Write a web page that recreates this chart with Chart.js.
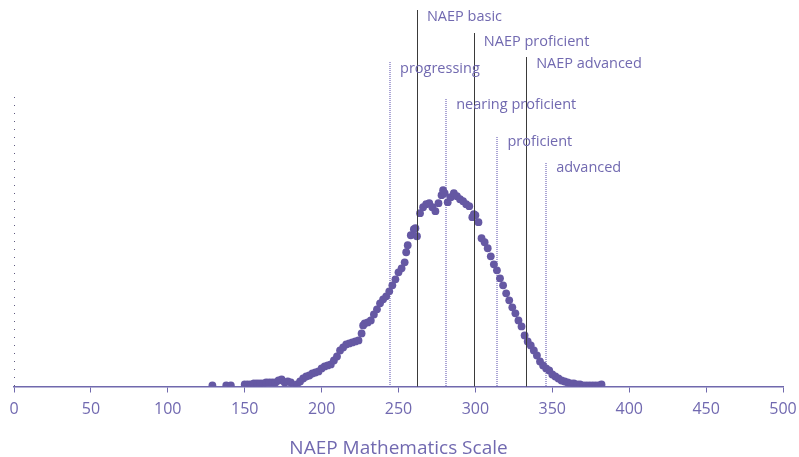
<!DOCTYPE html>
<html>
<head>
<meta charset="utf-8">
<script src="https://cdn.jsdelivr.net/npm/chart.js@4"></script>
<style>
html,body{margin:0;padding:0;background:#fff;}
#wrap{width:799px;height:457px;position:relative;}
</style>
</head>
<body>
<div id="wrap"><canvas id="c" width="799" height="457"></canvas></div>
<script>
// ---- data ----
const scores = [129,138,141,150,152,154,156,158,160,162,164,166,168,170,172,174,176,178,180,182,184,186,188,190,192,194,196,198,200,202,204,206,208,210,212,214,216,218,220,222,224,226,227,228,230,232,234,236,238,240,242,244,246,248,250,252,254,255,256,258,260,261,262,264,266,268,270,272,274,276,278,279,280,282,284,286,288,290,292,294,296,298,299,300,302,304,306,308,310,312,314,316,318,320,322,324,326,328,330,332,334,336,338,340,342,344,346,348,350,352,354,356,358,360,362,364,366,368,370,372,374,376,378,380,382];
const density = [1,1,1,2,2,2,3,3,3,3,4,4,4,4,6,7,4,5,4,1,2,5,8,10,11,13,14,15,18,20,21,22,26,30,36,39,42,43,44,45,46,53,61,63,64,66,72,77,83,87,90,95,101,107,114,118,124,134,141,151,157,158,150,173,179,182,183,179,175,183,191,196,193,184,189,193,190,187,185,182,180,169,172,171,164,148,144,138,130,122,116,108,101,93,86,79,73,66,60,51,45,41,36,31,25,21,18,16,12,10,8,6,5,4,3,3,2,2,1,1,1,1,1,1,2];
const xTicks = [0,50,100,150,200,250,300,350,400,450,500];
const naepCuts = [262, 299, 333];
const naepLabels = ['NAEP basic', 'NAEP proficient', 'NAEP advanced'];
const stateCuts = [244.5, 281, 314.3, 346];
const stateLabels = ['progressing', 'nearing proficient', 'proficient', 'advanced'];

// ---- styling / layout ----
const PURPLE = '#7069ad';
const TEXT = '#7169b0';
const FONT = "'Open Sans', sans-serif";
const naepTops = [10, 33, 57];
const naepTextY = [17, 42, 64];
const stateTops = [62, 99, 137, 163];
const stateTextY = [69, 105, 142, 168];

const refLines = {
  id: 'refLines',
  beforeDatasetsDraw(chart) {
    const {ctx, chartArea, scales} = chart;
    const x = scales.x;
    ctx.save();
    // dotted y axis
    ctx.strokeStyle = '#5f5a80';
    ctx.lineWidth = 1;
    ctx.setLineDash([1, 7]);
    ctx.beginPath();
    ctx.moveTo(Math.round(chartArea.left) + 0.5, chartArea.top);
    ctx.lineTo(Math.round(chartArea.left) + 0.5, chartArea.bottom);
    ctx.stroke();
    // state cut dotted lines
    ctx.strokeStyle = 'rgba(115,105,185,0.6)';
    ctx.lineWidth = 2;
    ctx.setLineDash([1, 1]);
    stateCuts.forEach((v, i) => {
      const px = Math.round(x.getPixelForValue(v));
      ctx.beginPath();
      ctx.moveTo(px, stateTops[i]);
      ctx.lineTo(px, chartArea.bottom);
      ctx.stroke();
    });
    ctx.restore();
  },
  afterDatasetsDraw(chart) {
    const {ctx, chartArea, scales} = chart;
    const x = scales.x;
    ctx.save();
    ctx.strokeStyle = '#3a3a3a';
    ctx.lineWidth = 1;
    naepCuts.forEach((v, i) => {
      const px = Math.round(x.getPixelForValue(v)) + 0.5;
      ctx.beginPath();
      ctx.moveTo(px, naepTops[i]);
      ctx.lineTo(px, chartArea.bottom);
      ctx.stroke();
    });
    ctx.fillStyle = TEXT;
    ctx.font = "14.5px " + FONT;
    ctx.textBaseline = 'middle';
    ctx.textAlign = 'left';
    naepCuts.forEach((v, i) => {
      ctx.fillText(naepLabels[i], x.getPixelForValue(v) + 10, naepTextY[i]);
    });
    stateCuts.forEach((v, i) => {
      ctx.fillText(stateLabels[i], x.getPixelForValue(v) + 10, stateTextY[i]);
    });
    ctx.restore();
  }
};

new Chart(document.getElementById('c'), {
  type: 'scatter',
  data: {
    datasets: [{
      data: scores.map((s, i) => ({x: s, y: density[i]})),
      backgroundColor: '#6558a3',
      borderWidth: 0,
      pointRadius: 3.9,
      pointHoverRadius: 3.9
    }]
  },
  options: {
    responsive: false,
    animation: false,
    events: [],
    layout: {padding: {top: 97, left: 14, right: 16, bottom: 0}},
    plugins: {legend: {display: false}, tooltip: {enabled: false}},
    scales: {
      x: {
        type: 'linear',
        min: 0, max: 500,
        afterBuildTicks(axis) { axis.ticks = xTicks.map(v => ({value: v})); },
        afterFit(axis) { axis.height = 70.5; axis.paddingLeft = 0; axis.paddingRight = 0; },
        grid: {display: true, drawOnChartArea: false, drawTicks: true, tickLength: 6, color: PURPLE, lineWidth: 1},
        border: {display: true, color: PURPLE, width: 1.5},
        ticks: {color: TEXT, font: {family: FONT, size: 16}, padding: 7.5, maxRotation: 0, autoSkip: false},
        title: {display: true, text: 'NAEP Mathematics Scale', color: TEXT, font: {family: FONT, size: 19, lineHeight: 1.0}, padding: {top: 19.5, bottom: -1}}
      },
      y: {
        display: false,
        min: 0, max: 289
      }
    }
  },
  plugins: [refLines]
});
</script>
</body>
</html>
